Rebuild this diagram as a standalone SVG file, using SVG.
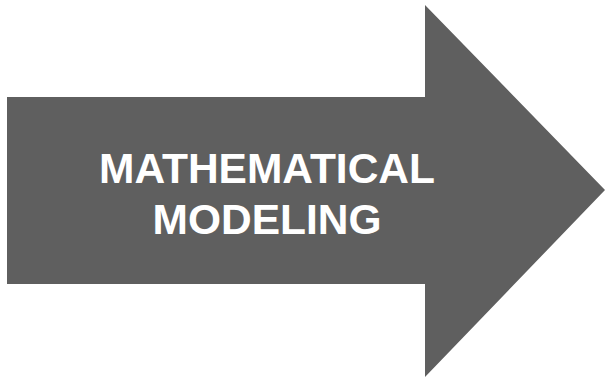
<svg xmlns="http://www.w3.org/2000/svg" width="606" height="379" viewBox="0 0 606 379">
<style>
.lbl{font-family:"Liberation Sans",Arial,sans-serif;font-weight:bold;font-size:42.5px;fill:#ffffff;text-anchor:middle}
</style>
<rect width="606" height="379" fill="#ffffff"/>
<g id="arrow">
<polygon points="7,97 425,97 425,5 605,190 425,377 425,284 7,284" fill="#5f5f5f"/>
<text class="lbl" x="267" y="183">MATHEMATICAL</text>
<text class="lbl" x="267" y="234">MODELING</text>
</g>
</svg>
